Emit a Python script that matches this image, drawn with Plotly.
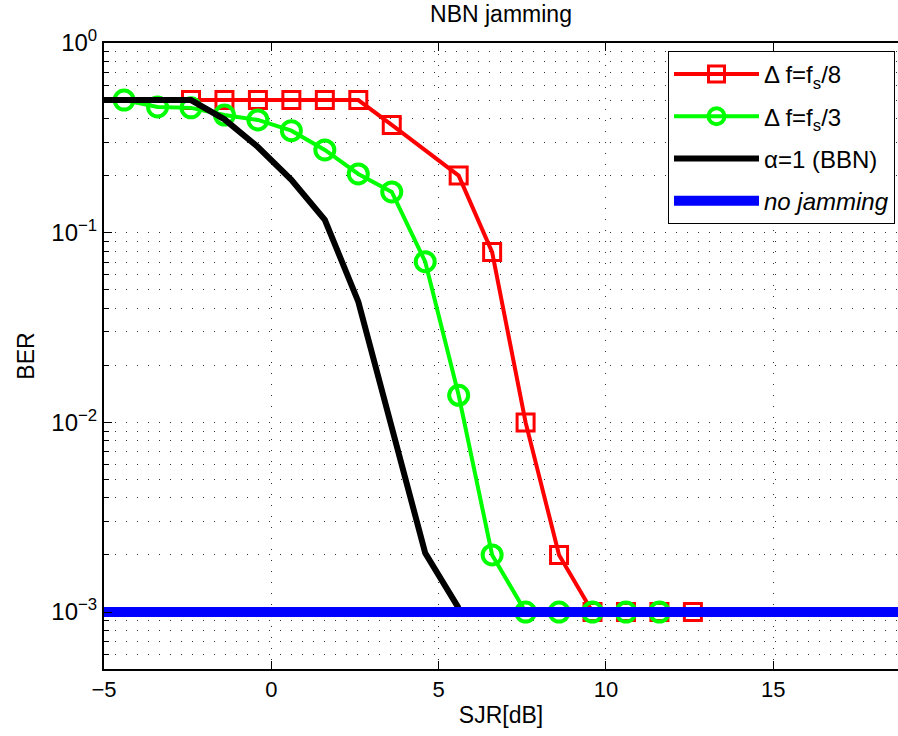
import plotly.graph_objects as go

# --- data ---
x_red = [-2.4, -1.4, -0.4, 0.6, 1.6, 2.6, 3.6, 5.6, 6.6, 7.6, 8.6, 9.6, 10.6, 11.6, 12.6]
y_red = [0.5, 0.5, 0.5, 0.5, 0.5, 0.5, 0.37, 0.2, 0.079, 0.01, 0.002, 0.001, 0.001, 0.001, 0.001]

x_green = [-4.4, -3.4, -2.4, -1.4, -0.4, 0.6, 1.6, 2.6, 3.6, 4.6, 5.6, 6.6, 7.6, 8.6, 9.6, 10.6, 11.6]
y_green = [0.5, 0.46, 0.455, 0.417, 0.393, 0.345, 0.273, 0.204, 0.164, 0.0703, 0.0139, 0.002,
           0.001, 0.001, 0.001, 0.001, 0.001]

x_black = [-5.4, -4.4, -3.4, -2.4, -1.4, -0.4, 0.6, 1.6, 2.6, 3.6, 4.6, 5.6]
y_black = [0.5, 0.5, 0.5, 0.5, 0.396, 0.283, 0.19, 0.117, 0.0433, 0.0092, 0.00205, 0.00105]

x_blue = [-6, 20]
y_blue = [0.001, 0.001]

y_tickvals = [1e-3, 1e-2, 1e-1, 1]
y_ticktext = ["10<sup>−3</sup>", "10<sup>−2</sup>", "10<sup>−1</sup>", "10<sup>0</sup>"]
x_tickvals = [-5, 0, 5, 10, 15]

FONT = "Liberation Sans, Arial, sans-serif"

fig = go.Figure()
fig.add_trace(go.Scatter(
    x=x_red, y=y_red, mode="lines+markers", name="Δ f=f<sub>s</sub>/8", legendgroup="a",
    line=dict(color="#FF0000", width=4),
    marker=dict(symbol="square-open", size=17, color="#FF0000", line=dict(width=3, color="#FF0000")),
))
fig.add_trace(go.Scatter(
    x=x_green, y=y_green, mode="lines+markers", name="Δ f=f<sub>s</sub>/3", legendgroup="b",
    line=dict(color="#00FF00", width=4),
    marker=dict(symbol="circle-open", size=19, color="#00FF00", line=dict(width=4, color="#00FF00")),
))
fig.add_trace(go.Scatter(
    x=x_black, y=y_black, mode="lines", name="α=1 (BBN)", legendgroup="c",
    line=dict(color="#000000", width=6),
))
fig.add_trace(go.Scatter(
    x=x_blue, y=y_blue, mode="lines", name="<i>no jamming</i>", legendgroup="d",
    line=dict(color="#0000FF", width=10),
))

grid_dash = "1px,10px"

fig.update_layout(
    width=898, height=736,
    margin=dict(l=104, r=0, t=43, b=67),
    paper_bgcolor="white", plot_bgcolor="white",
    font=dict(family=FONT, size=23, color="black"),
    title=dict(text="NBN jamming", x=(104 + 898) / 2 / 898, xanchor="center",
               y=1 - 14 / 736, yanchor="middle", font=dict(family=FONT, size=23)),
    showlegend=True,
    legend=dict(
        x=1 - 3 / 794, xanchor="right", y=1 - 8 / 626, yanchor="top",
        bgcolor="white", bordercolor="black", borderwidth=1,
        font=dict(family=FONT, size=24), tracegroupgap=8, itemwidth=85,
    ),
    xaxis=dict(
        range=[-5, 18.73], tickvals=x_tickvals, ticks="inside", ticklen=8, tickwidth=1,
        tickcolor="black", showline=True, linecolor="black", linewidth=2, mirror="ticks",
        showgrid=True, gridcolor="#333", gridwidth=1, griddash=grid_dash,
        zeroline=False, tickfont=dict(family=FONT, size=22),
        title=dict(text="SJR[dB]", font=dict(family=FONT, size=23), standoff=5),
    ),
    yaxis=dict(
        type="log", range=[-3.3, 0], tickvals=y_tickvals, ticktext=y_ticktext,
        ticks="inside", ticklen=8, tickwidth=1, tickcolor="black",
        showline=True, linecolor="black", linewidth=2, mirror=False,
        showgrid=True, gridcolor="#333", gridwidth=1, griddash=grid_dash,
        zeroline=False, tickfont=dict(family=FONT, size=24),
        minor=dict(dtick="D1", ticks="inside", ticklen=5, tickcolor="black",
                   showgrid=True, gridcolor="#333", gridwidth=1, griddash=grid_dash),
        title=dict(text="BER", font=dict(family=FONT, size=23), standoff=10),
    ),
)

fig.write_html("out.html")
